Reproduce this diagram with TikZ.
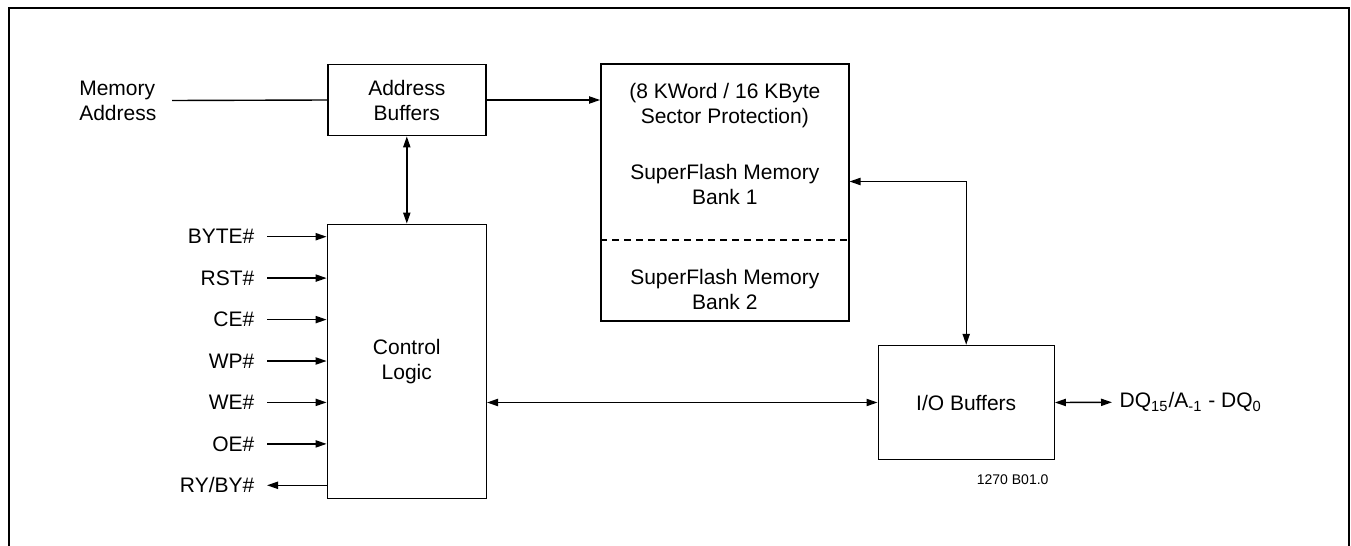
\documentclass[tikz,border=0pt]{standalone}
\usepackage{fontspec}
\setmainfont{Liberation Sans}
\usetikzlibrary{arrows.meta,positioning,calc}
\tikzset{
  >={Triangle[length=5.5pt,width=3.6pt]},
  every picture/.append style={line width=0.7pt},
}
\tikzset{
  block/.style={draw, rectangle, inner sep=0pt, align=center},
  signal/.style={anchor=east, inner xsep=6pt, inner ysep=0pt},
  arrow/.style={->},
  dblarrow/.style={<->},
  divider/.style={dash pattern=on 3.5pt off 2.5pt},
  frame/.style={line width=1pt}
}

\begin{document}
\begin{tikzpicture}[
  x=0.5pt, y=-0.5pt,
  font=\fontsize{10.5}{12.5}\selectfont
]
\useasboundingbox (0,0) rectangle (1351,546);

% --- Page frame (open at the bottom) ---
\draw[frame] (9,546) -- (9,8) -- (1349,8) -- (1349,546);

% --- Blocks ---
\node[block, minimum width=79pt, minimum height=35.7pt] (addr) at (406.8,100) {Address\\Buffers};
\node[block, minimum width=79.5pt, minimum height=137pt] (ctrl) at (406.8,361.3) {Control\\Logic};
\node[block, minimum width=124pt, minimum height=128.5pt] (mem) at (724.8,192.5) {};
\node[block, minimum width=88pt, minimum height=57pt] (io) at (966.2,402.5) {I/O Buffers};

% --- Memory array texts and bank divider ---
\node[align=center] (prot) at (724.8,106) {(8 KWord / 16 KByte\\Sector Protection)};
\node[align=center] (bank1) at (724.8,184) {SuperFlash Memory\\Bank 1};
\node[align=center] (bank2) at (724.8,289) {SuperFlash Memory\\Bank 2};
\coordinate (split) at (724.8,240);
\draw[divider] (split -| mem.west) -- (split -| mem.east);

% --- Address path ---
\node[align=left, anchor=east, inner xsep=7.5pt] (maddr) at (172,100.5) {Memory\\Address};
\draw (maddr.east) -- (addr.west);
\draw[arrow] (addr.east) -- (addr.east -| mem.west);
\draw[dblarrow] (addr.south) -- (ctrl.north);

% --- Control signals ---
\node[signal] (byte) at (267,236.7) {BYTE\#};
\node[signal] (rst)  at (267,278.1) {RST\#};
\node[signal] (ce)   at (267,319.6) {CE\#};
\node[signal] (wp)   at (267,361.0) {WP\#};
\node[signal] (we)   at (267,402.4) {WE\#};
\node[signal] (oe)   at (267,443.9) {OE\#};
\node[signal] (ryby) at (267,485.3) {RY/BY\#};
\draw[arrow] (byte.east) -- (byte.east -| ctrl.west);
\draw[arrow] (rst.east) -- (rst.east -| ctrl.west);
\draw[arrow] (ce.east) -- (ce.east -| ctrl.west);
\draw[arrow] (wp.east) -- (wp.east -| ctrl.west);
\draw[arrow] (we.east) -- (we.east -| ctrl.west);
\draw[arrow] (oe.east) -- (oe.east -| ctrl.west);
\draw[arrow] (ryby.east -| ctrl.west) -- (ryby.east);

% --- Data path ---
\path (mem.east) ++(0,-11) coordinate (bankin);
\draw[dblarrow] (bankin) -| (io.north);
\draw[dblarrow] (io.west -| ctrl.east) -- (io.west);
\node[anchor=west, inner xsep=3.5pt] (dq) at (1112,402.3) {DQ\textsubscript{15}/A\textsubscript{-1} - DQ\textsubscript{0}};
\draw[dblarrow] (io.east) -- (dq.west);

% --- Figure number ---
\node[font=\fontsize{7}{8}\selectfont] (fignum) at (1012.7,480) {1270 B01.0};

\end{tikzpicture}
\end{document}
